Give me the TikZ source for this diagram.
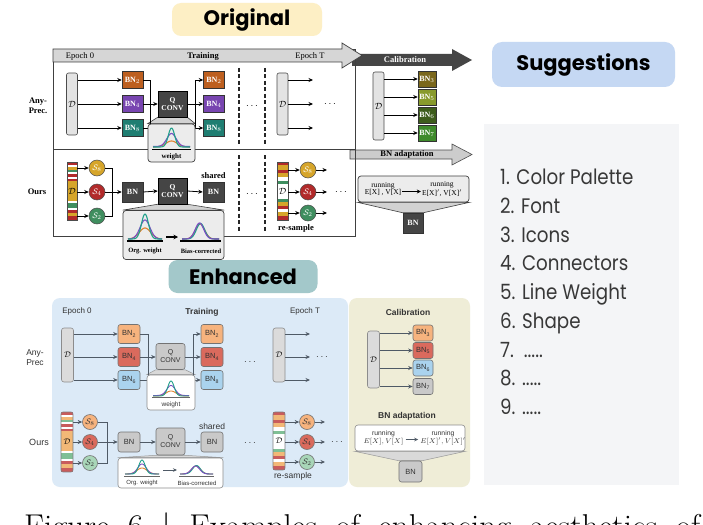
\documentclass[tikz,border=0pt]{standalone}
\usepackage{fontspec}
\setmainfont{Liberation Serif}
\newfontfamily\popf{Poppins}
\newfontfamily\popn[FakeStretch=0.87]{Poppins}
\newfontfamily\esf{Liberation Sans}
\newfontfamily\lmr{Latin Modern Roman}
\usetikzlibrary{arrows.meta}
\pgfdeclarelayer{bg}
\pgfdeclarelayer{mid}
\pgfsetlayers{bg,mid,main}
\definecolor{origbg}{HTML}{FDEFC5}
\definecolor{enhbg}{HTML}{A3C8CA}
\definecolor{sugbg}{HTML}{C5D8F3}
\definecolor{panelbg}{HTML}{F4F5F7}
\definecolor{bluebg}{HTML}{DCEAF7}
\definecolor{creambg}{HTML}{EFEDD7}
\definecolor{obn2}{HTML}{BD5F1F}
\definecolor{obn4}{HTML}{7845B0}
\definecolor{obn8}{HTML}{1F7E72}
\definecolor{oc3}{HTML}{7A671C}
\definecolor{oc5}{HTML}{889A2C}
\definecolor{oc6}{HTML}{3D5C1C}
\definecolor{oc7}{HTML}{3E8A2B}
\definecolor{odark}{HTML}{454545}
\definecolor{ored}{HTML}{B22A2A}
\definecolor{ogold}{HTML}{D6A52A}
\definecolor{ogreen}{HTML}{3F8E5F}
\definecolor{eor}{HTML}{F6B37E}
\definecolor{ere}{HTML}{DA6A5D}
\definecolor{ebl}{HTML}{AAD3EE}
\definecolor{egr}{HTML}{C9C9C9}
\definecolor{egn}{HTML}{A8D6B8}
\definecolor{ered}{HTML}{C95C5C}
\definecolor{egold}{HTML}{F2B877}
\definecolor{egreen}{HTML}{7FBF95}
\definecolor{cteal}{HTML}{20A08A}
\definecolor{cpurp}{HTML}{7A4FC2}
\definecolor{corng}{HTML}{E0822E}
\definecolor{etext}{HTML}{333333}
\definecolor{earrow}{HTML}{4F5A66}
\definecolor{listtext}{HTML}{383838}
\newcommand{\gcurve}[7]{\draw[#1] plot[domain=#2:#3, samples=60, smooth] (\x,{#5-#6*exp(-((\x-#4)/#7)^2)});}
\tikzset{
  otxt/.style={font=\fontsize{8.5}{9}\selectfont, inner sep=0pt},
  obtxt/.style={font=\fontsize{8.5}{9.5}\selectfont\bfseries, inner sep=0pt, align=center},
  obn/.style={rectangle, draw=black!80, line width=0.5pt, minimum width=21pt, minimum height=17pt, inner sep=0pt, text=white, font=\fontsize{8}{9}\selectfont\bfseries},
  ocb/.style={obn, minimum width=18pt, minimum height=16pt},
  oDbox/.style={rectangle, rounded corners=2pt, draw=black!70, fill=gray!22, line width=0.6pt, minimum width=11pt, inner sep=0pt},
  oarr/.style={-{Stealth[length=4.5pt,width=4pt]}, line width=0.8pt, draw=black},
  oline/.style={line width=0.8pt, draw=black},
  ocirc/.style={circle, draw=black!70, line width=0.5pt, minimum size=16pt, inner sep=0pt, text=white, font=\fontsize{8}{9}\selectfont},
  odash/.style={line width=1.4pt, dash pattern=on 4pt off 2.5pt, draw=black!85},
  oq/.style={rectangle, fill=odark, draw=black, line width=0.5pt, minimum width=29pt, minimum height=26pt, inner sep=0pt, text=white, align=center, font=\fontsize{7.5}{8.5}\selectfont\bfseries},
  obox/.style={rectangle, rounded corners=3pt, fill=gray!15, draw=black!75, line width=0.7pt, inner sep=0pt},
  otrap/.style={fill=gray!35, draw=black!75, line width=0.6pt},
  etxt/.style={font=\esf\fontsize{8}{9}\selectfont, inner sep=0pt, text=etext, align=center},
  ebtxt/.style={font=\esf\bfseries\fontsize{8.5}{9.5}\selectfont, inner sep=0pt, text=etext},
  ebn/.style={rectangle, rounded corners=2.5pt, draw=black!55, line width=0.6pt, minimum width=22pt, minimum height=19pt, inner sep=0pt, font=\esf\fontsize{7.5}{8}\selectfont, text=etext},
  ecb/.style={ebn, minimum width=20pt, minimum height=16pt},
  eDbox/.style={rectangle, rounded corners=2.5pt, draw=black!45, fill=gray!28, line width=0.6pt, minimum width=12pt, inner sep=0pt},
  earr/.style={-{Stealth[length=4.5pt,width=4pt]}, line width=0.9pt, draw=earrow},
  eline/.style={line width=0.9pt, draw=earrow},
  ecirc/.style={circle, draw=black!55, line width=0.6pt, minimum size=15pt, inner sep=0pt, text=etext, font=\fontsize{8}{9}\selectfont},
  eq/.style={ebn, fill=egr, minimum width=29pt, minimum height=26pt, align=center, font=\esf\fontsize{7}{8}\selectfont},
  ebox/.style={rectangle, rounded corners=3pt, fill=white, draw=black!45, line width=0.6pt, inner sep=0pt},
  etrap/.style={fill=gray!30, draw=black!40, line width=0.5pt},
  title/.style={rectangle, rounded corners=9pt, inner sep=0pt, font=\popf\bfseries\fontsize{21}{24}\selectfont, text=black},
  litem/.style={anchor=base west, inner sep=0pt, font=\popn\fontsize{21}{24}\selectfont, text=listtext}
}
\begin{document}
\begin{tikzpicture}[x=1pt,y=-1pt]
\useasboundingbox (0,0) rectangle (703,524);
\clip (0,0) rectangle (703,524);
\begin{pgfonlayer}{bg}
\fill[white] (0,0) rectangle (703,524);
\end{pgfonlayer}

% ================= ORIGINAL =================
\node[title, fill=origbg, minimum width=150pt, minimum height=33pt] (torig) at (247,19.5) {Original};

% calibration arrow
\fill[odark] (352,54) -- (452,54) -- (452,49) -- (472,60) -- (452,71) -- (452,66) -- (352,66) -- cycle;
\node[font=\fontsize{8.5}{9}\selectfont\bfseries, text=white, inner sep=0pt] (ocal) at (405,60) {Calibration};
% BN adaptation arrow
\filldraw[fill=gray!40, draw=black!70, line width=0.6pt] (350,150) -- (452,150) -- (452,144) -- (472,154.5) -- (452,165) -- (452,159) -- (350,159) -- cycle;
\node[obtxt] (obnad) at (407,154.5) {BN adaptation};
% training frame
\draw[black!75, line width=0.8pt] (53,49) rectangle (355,236);
\draw[black!75, line width=0.8pt] (53,149) -- (355,149);
\filldraw[fill=gray!32, draw=black!75, line width=0.7pt] (53,49) -- (342,49) -- (342,43) -- (362,55.5) -- (342,68) -- (342,62) -- (53,62) -- cycle;
\node[otxt] (oep0) at (80,56) {Epoch 0};
\node[obtxt] (otrain) at (203,56) {Training};
\node[otxt] (oepT) at (310,56) {Epoch T};

% Any-Prec row
\node[obtxt] (oap) at (38,106) {Any-\\Prec.};
\node[oDbox, minimum height=62pt] (oD1) at (72,104) {\fontsize{9}{9}\selectfont$\mathcal{D}$};
\node[obn, fill=obn2] (o12) at (132.5,80) {BN$_2$};
\node[obn, fill=obn4] (o14) at (132.5,104) {BN$_4$};
\node[obn, fill=obn8] (o18) at (132.5,128) {BN$_8$};
\draw[oarr] (oD1.east |- o12.west) -- (o12.west);
\draw[oarr] (oD1.east |- o14.west) -- (o14.west);
\draw[oarr] (oD1.east |- o18.west) -- (o18.west);
\node[oq] (oq1) at (172.5,104) {Q\\CONV};
\coordinate (oj1) at (150,104);
\coordinate (oj2) at (195,104);
\draw[oline] (o12.east) -| (oj1);
\draw[oline] (o18.east) -| (oj1);
\draw[oarr] (o14.east) -- (oq1.west);
\node[obn, fill=obn2] (o22) at (214,80) {BN$_2$};
\node[obn, fill=obn4] (o24) at (214,104) {BN$_4$};
\node[obn, fill=obn8] (o28) at (214,128) {BN$_8$};
\draw[oline] (oq1.east) -- (oj2);
\draw[oarr] (oj2) |- (o22.west);
\draw[oarr] (oj2) -- (o24.west);
\draw[oarr] (oj2) |- (o28.west);
\node[obox, minimum width=47pt, minimum height=38pt] (ow1) at (171.5,143) {};
\begin{pgfonlayer}{mid}
\draw[otrap] (oq1.south west) -- (oq1.south east) -- (ow1.north east) -- (ow1.north west) -- cycle;
\end{pgfonlayer}
\gcurve{corng, line width=1.1pt}{153}{190}{171.5}{147}{6}{8}
\gcurve{cpurp, line width=1.1pt}{153}{190}{171.5}{146.5}{13}{6.5}
\gcurve{cteal, line width=1.1pt}{153}{190}{171.5}{147}{19}{4.5}
\draw[black, line width=1pt] (152,149) -- (191,149);
\node[font=\fontsize{7}{8}\selectfont\bfseries, inner sep=0pt] (owt) at (171.5,156.5) {weight};

\draw[odash] (239,68) -- (239,145);
\draw[odash] (265,68) -- (265,145);
\node[font=\fontsize{10}{10}\selectfont\bfseries, inner sep=0pt] (odt1) at (252,106) {$\cdots$};
\node[oDbox, minimum height=62pt] (oDT1) at (282.5,104) {\fontsize{9}{9}\selectfont$\mathcal{D}$};
\coordinate (ot1) at (313,80);
\coordinate (ot2) at (313,104);
\coordinate (ot3) at (313,128);
\draw[oarr] (oDT1.east |- ot1) -- (ot1);
\draw[oarr] (oDT1.east |- ot2) -- (ot2);
\draw[oarr] (oDT1.east |- ot3) -- (ot3);
\node[font=\fontsize{10}{10}\selectfont, inner sep=0pt] (odt2) at (330,104) {$\cdots$};

% calibration
\node[oDbox, minimum height=68pt] (oDC) at (378.5,106) {\fontsize{9}{9}\selectfont$\mathcal{D}$};
\node[ocb, fill=oc3] (oc3n) at (427,79) {BN$_3$};
\node[ocb, fill=oc5] (oc5n) at (427,97) {BN$_5$};
\node[ocb, fill=oc6] (oc6n) at (427,115) {BN$_6$};
\node[ocb, fill=oc7] (oc7n) at (427,133) {BN$_7$};
\draw[oarr] (oDC.east |- oc3n.west) -- (oc3n.west);
\draw[oarr] (oDC.east |- oc5n.west) -- (oc5n.west);
\draw[oarr] (oDC.east |- oc6n.west) -- (oc6n.west);
\draw[oarr] (oDC.east |- oc7n.west) -- (oc7n.west);

% Ours row
\node[obtxt] (oours) at (37,192) {Ours};
\foreach \a/\b/\c in {162/165/ored,165/167/white,167/170/ogold,170/172/ogreen,172/174/white,174/177/ored,177/179/white,179/181/ored,181/201/ogold,201/203/white,203/208/ogreen,208/210/white,210/213/ored,213/216/ogold,216/220/ored}
  \fill[\c] (67,\a) rectangle (77,\b);
\node[rectangle, draw=black!70, line width=0.6pt, minimum width=10pt, minimum height=58pt, inner sep=0pt] (oDs) at (72,191) {\fontsize{9}{9}\selectfont$\mathcal{D}$};
\node[ocirc, fill=ogold] (os8) at (97,168) {$\mathcal{S}_8$};
\node[ocirc, fill=ored] (os4) at (97,192) {$\mathcal{S}_4$};
\node[ocirc, fill=ogreen] (os2) at (97,216) {$\mathcal{S}_2$};
\draw[oarr] (oDs.east |- os8) -- (os8);
\draw[oarr] (oDs.east |- os4) -- (os4);
\draw[oarr] (oDs.east |- os2) -- (os2);
\coordinate (oj3) at (112,192);
\draw[oline] (os8.east) -| (oj3);
\draw[oline] (os2.east) -| (oj3);
\node[obn, fill=odark, minimum height=20pt] (obn1) at (132.5,192) {BN};
\draw[oarr] (os4.east) -- (obn1.west);
\node[oq] (oq2) at (172.5,191) {Q\\CONV};
\draw[oarr] (obn1.east) -- (oq2.west);
\node[obn, fill=odark, minimum height=20pt] (osh) at (213.5,192) {BN};
\draw[oarr] (oq2.east) -- (osh.west);
\node[obtxt] (oshared) at (213.5,176) {shared};
\node[obox, minimum width=101pt, minimum height=49pt] (ow2) at (173.5,235) {};
\begin{pgfonlayer}{mid}
\draw[otrap] (oq2.south west) -- (oq2.south east) -- (ow2.north east) -- (ow2.north west) -- cycle;
\end{pgfonlayer}
\gcurve{corng, line width=1.1pt}{128}{162}{145}{239}{11}{8}
\gcurve{cpurp, line width=1.1pt}{128}{162}{145}{239}{19}{7}
\gcurve{cteal, line width=1.1pt}{128}{162}{145}{239}{25}{5}
\draw[black, line width=1.1pt] (127,241) -- (163,241);
\draw[-{Stealth[length=4.5pt,width=4.5pt]}, line width=1.5pt] (166,237) -- (178,237);
\gcurve{corng, line width=1.1pt}{182}{219}{200}{239}{15}{6.5}
\gcurve{cteal, line width=1.1pt}{182}{219}{200.5}{239}{15.5}{5.8}
\gcurve{cpurp, line width=1.1pt}{182}{219}{199.5}{239}{16}{6}
\draw[black, line width=1.1pt] (180,241) -- (221,241);
\node[font=\fontsize{6.5}{7}\selectfont\bfseries, inner sep=0pt] (oorg) at (145,251) {Org. weight};
\node[font=\fontsize{6.5}{7}\selectfont\bfseries, inner sep=0pt] (obias) at (201,251) {Bias-corrected};

\draw[odash] (239,155) -- (239,231);
\draw[odash] (265,155) -- (265,231);
\node[font=\fontsize{10}{10}\selectfont, inner sep=0pt] (odt3) at (252,194) {$\cdots$};
\foreach \a/\b/\c in {162/165/ored,165/170/ogold,170/173/ored,173/177/ogold,177/181/white,181/184/ogreen,184/199/white,199/202/ogreen,202/206/ogold,206/209/ored,209/212/white,212/216/ogold,216/220/ored}
  \fill[\c] (277,\a) rectangle (288,\b);
\node[rectangle, draw=black!70, line width=0.6pt, minimum width=11pt, minimum height=58pt, inner sep=0pt] (oDr) at (282.5,191) {\fontsize{9}{9}\selectfont$\mathcal{D}$};
\node[ocirc, fill=ogold] (or8) at (308,170) {$\mathcal{S}_8$};
\node[ocirc, fill=ored] (or4) at (308,192) {$\mathcal{S}_4$};
\node[ocirc, fill=ogreen] (or2) at (308,213) {$\mathcal{S}_2$};
\draw[oarr] (oDr.east |- or8) -- (or8);
\draw[oarr] (oDr.east |- or4) -- (or4);
\draw[oarr] (oDr.east |- or2) -- (or2);
\coordinate (ort1) at (327,170);
\coordinate (ort2) at (327,192);
\coordinate (ort3) at (327,213);
\draw[oarr] (or8) -- (ort1);
\draw[oarr] (or4) -- (ort2);
\draw[oarr] (or2) -- (ort3);
\node[font=\fontsize{10}{10}\selectfont, inner sep=0pt] (odt4) at (341,192) {$\cdots$};
\node[obtxt] (oresam) at (296,228) {re-sample};

% BN adaptation (original)
\node[obox, minimum width=111pt, minimum height=26pt] (oba) at (413.5,189) {};
\node[font=\fontsize{7.5}{7}\selectfont, inner sep=1pt, align=center] (orun1) at (383,189) {running\\E[X] , V[X]};
\node[font=\fontsize{7.5}{7}\selectfont, inner sep=1pt, align=center] (orun2) at (442,189) {running\\E[X]$'$, V[X]$'$};
\draw[-{Stealth[length=4pt,width=4pt]}, line width=1.3pt] ([yshift=-2.5pt]orun1.east) -- ([yshift=-2.5pt]orun2.west);
\node[obn, fill=odark, minimum width=20pt, minimum height=20pt] (obn3) at (413,223) {BN};
\begin{pgfonlayer}{mid}
\draw[otrap] (oba.south west) -- (oba.south east) -- (obn3.north east) -- (obn3.north west) -- cycle;
\end{pgfonlayer}

% ================= ENHANCED =================
\node[title, fill=enhbg, minimum width=149pt, minimum height=33pt] (tenh) at (243,276.5) {Enhanced};
\begin{pgfonlayer}{bg}
\fill[bluebg, rounded corners=8pt] (52,298) rectangle (348,487);
\fill[creambg, rounded corners=8pt] (349,298) rectangle (470,487);
\end{pgfonlayer}
\node[etxt] (eep0) at (77,311) {Epoch 0};
\node[ebtxt] (etrain) at (202,312) {Training};
\node[etxt] (eepT) at (305,311) {Epoch T};
\node[ebtxt] (ecal) at (408,312) {Calibration};

\node[etxt, font=\esf\fontsize{8.5}{10}\selectfont] (eap) at (35,358) {Any-\\Prec};
\node[eDbox, minimum height=54pt] (eD1) at (67.5,355) {\fontsize{8.5}{9}\selectfont$\mathcal{D}$};
\node[ebn, fill=eor] (e12) at (129,334) {BN\textsubscript{2}};
\node[ebn, fill=ere] (e14) at (129,357) {BN\textsubscript{4}};
\node[ebn, fill=ebl] (e16) at (129,380) {BN\textsubscript{6}};
\draw[earr] (eD1.east |- e12.west) -- (e12.west);
\draw[earr] (eD1.east |- e14.west) -- (e14.west);
\draw[earr] (eD1.east |- e16.west) -- (e16.west);
\node[eq] (eq1) at (170.5,356.5) {Q\\CONV};
\coordinate (ej1) at (148,357);
\coordinate (ej2) at (193,357);
\draw[eline] (e12.east) -| (ej1);
\draw[eline] (e16.east) -| (ej1);
\draw[earr] (e14.east) -- (eq1.west |- e14.east);
\node[ebn, fill=eor] (e22) at (212,334) {BN\textsubscript{2}};
\node[ebn, fill=ere] (e24) at (212,357) {BN\textsubscript{4}};
\node[ebn, fill=ebl] (e28) at (212,380) {BN\textsubscript{8}};
\draw[eline] (eq1.east |- ej2) -- (ej2);
\draw[earr] (ej2) |- (e22.west);
\draw[earr] (ej2) -- (e24.west);
\draw[earr] (ej2) |- (e28.west);
\node[ebox, minimum width=48pt, minimum height=35pt] (ew1) at (171,392.5) {};
\begin{pgfonlayer}{mid}
\draw[etrap] (eq1.south west) -- (eq1.south east) -- (ew1.north east) -- (ew1.north west) -- cycle;
\end{pgfonlayer}
\gcurve{corng, line width=0.9pt}{153}{189}{171}{396}{5}{7}
\gcurve{cpurp, line width=0.9pt}{153}{189}{171}{395.5}{10}{6}
\gcurve{cteal, line width=0.9pt}{153}{189}{171}{396}{15}{4.5}
\draw[black!60, line width=0.8pt] (152,397.5) -- (190,397.5);
\node[etxt, font=\esf\fontsize{6.5}{7}\selectfont] (ewt) at (171,404.5) {weight};
\node[font=\fontsize{10}{10}\selectfont, inner sep=0pt, text=etext] (edt1) at (250,362) {$\cdots$};
\node[eDbox, minimum height=54pt] (eDT1) at (279,355) {\fontsize{8.5}{9}\selectfont$\mathcal{D}$};
\coordinate (et1) at (310,334);
\coordinate (et2) at (310,357);
\coordinate (et3) at (310,380);
\draw[earr] (eDT1.east |- et1) -- (et1);
\draw[earr] (eDT1.east |- et2) -- (et2);
\draw[earr] (eDT1.east |- et3) -- (et3);
\node[font=\fontsize{10}{10}\selectfont, inner sep=0pt, text=etext] (edt2) at (322,357) {$\cdots$};

\node[eDbox, minimum height=57pt] (eDC) at (373.5,359.5) {\fontsize{8.5}{9}\selectfont$\mathcal{D}$};
\node[ecb, fill=eor] (ec3) at (423,333) {BN\textsubscript{3}};
\node[ecb, fill=ere] (ec5) at (423,350.5) {BN\textsubscript{5}};
\node[ecb, fill=ebl] (ec6) at (423,368) {BN\textsubscript{6}};
\node[ecb, fill=egr] (ec7) at (423,386.5) {BN\textsubscript{7}};
\draw[earr] (eDC.east |- ec3.west) -- (ec3.west);
\draw[earr] (eDC.east |- ec5.west) -- (ec5.west);
\draw[earr] (eDC.east |- ec6.west) -- (ec6.west);
\draw[earr] (eDC.east |- ec7.west) -- (ec7.west);

% Ours enhanced
\node[etxt, font=\esf\fontsize{9}{10}\selectfont] (eours) at (39,442) {Ours};
\foreach \a/\b/\c in {412/415/ered,415/417/white,417/420/egold,420/422/egreen,422/424/white,424/427/ered,427/429/white,429/431/ered,431/451/egold,451/453/white,453/459/egreen,459/461/white,461/464/ered,464/468/egold,468/472/ered}
  \fill[\c] (61,\a) rectangle (73,\b);
\node[rectangle, rounded corners=2pt, draw=black!50, line width=0.6pt, minimum width=12pt, minimum height=60pt, inner sep=0pt] (eDs) at (67,442) {\fontsize{8.5}{9}\selectfont$\mathcal{D}$};
\node[ecirc, fill=eor] (es8) at (90,422) {$\mathcal{S}_8$};
\node[ecirc, fill=ere] (es4) at (90,442) {$\mathcal{S}_4$};
\node[ecirc, fill=egn] (es2) at (90,463) {$\mathcal{S}_2$};
\draw[earr] (eDs.east |- es8) -- (es8);
\draw[earr] (eDs.east |- es4) -- (es4);
\draw[earr] (eDs.east |- es2) -- (es2);
\coordinate (ej3) at (107,442);
\draw[eline] (es8.east) -| (ej3);
\draw[eline] (es2.east) -| (ej3);
\node[ebn, fill=egr, minimum height=20pt] (ebn1) at (129,442) {BN};
\draw[earr] (es4.east) -- (ebn1.west);
\node[eq, minimum height=27pt] (eq2) at (170.5,441.5) {Q\\CONV};
\draw[earr] (ebn1.east) -- (eq2.west |- ebn1.east);
\node[ebn, fill=egr, minimum height=20pt] (esh) at (212,442) {BN};
\draw[earr] (eq2.east |- esh.west) -- (esh.west);
\node[etxt, font=\esf\fontsize{8.5}{9}\selectfont] (eshared) at (212,426) {shared};
\node[ebox, minimum width=105pt, minimum height=30pt] (ew2) at (170.5,473) {};
\begin{pgfonlayer}{mid}
\draw[etrap] (eq2.south west) -- (eq2.south east) -- (ew2.north east) -- (ew2.north west) -- cycle;
\end{pgfonlayer}
\gcurve{corng, line width=0.9pt}{125}{159}{142}{474}{6}{7}
\gcurve{cpurp, line width=0.9pt}{125}{159}{142}{474}{10}{6}
\gcurve{cteal, line width=0.9pt}{125}{159}{142}{474}{14}{4.5}
\draw[black!60, line width=0.8pt] (124,476) -- (160,476);
\draw[-{Stealth[length=4pt,width=3.5pt]}, line width=0.9pt, earrow] (163,470) -- (177,470);
\gcurve{corng, line width=0.9pt}{180}{213}{196}{474}{8}{6}
\gcurve{cteal, line width=0.9pt}{180}{213}{196.5}{474}{8.5}{5.5}
\gcurve{cpurp, line width=0.9pt}{180}{213}{195.5}{474}{8}{5.8}
\draw[black!60, line width=0.8pt] (179,476) -- (214,476);
\node[etxt, font=\esf\fontsize{6}{7}\selectfont] (eorg) at (142,483) {Org. weight};
\node[etxt, font=\esf\fontsize{6}{7}\selectfont] (ebias) at (197,483) {Bias-corrected};

\node[font=\fontsize{10}{10}\selectfont, inner sep=0pt, text=etext] (edt3) at (250,443) {$\cdots$};
\foreach \a/\b/\c in {412/415/ered,415/420/egold,420/423/ered,423/427/egold,427/431/white,431/434/egreen,434/449/white,449/452/egreen,452/456/egold,456/459/ered,459/462/white,462/466/egold,466/470/ered}
  \fill[\c] (273,\a) rectangle (285,\b);
\node[rectangle, rounded corners=2pt, draw=black!50, line width=0.6pt, minimum width=12pt, minimum height=58pt, inner sep=0pt] (eDr) at (279,441) {\fontsize{8.5}{9}\selectfont$\mathcal{D}$};
\node[ecirc, fill=eor] (er8) at (307,422) {$\mathcal{S}_8$};
\node[ecirc, fill=ere] (er4) at (307,442) {$\mathcal{S}_4$};
\node[ecirc, fill=egn] (er2) at (307,462) {$\mathcal{S}_2$};
\draw[earr] (eDr.east |- er8) -- (er8);
\draw[earr] (eDr.east |- er4) -- (er4);
\draw[earr] (eDr.east |- er2) -- (er2);
\coordinate (ert1) at (325,422);
\coordinate (ert2) at (325,442);
\coordinate (ert3) at (325,462);
\draw[earr] (er8) -- (ert1);
\draw[earr] (er4) -- (ert2);
\draw[earr] (er2) -- (ert3);
\node[font=\fontsize{10}{10}\selectfont, inner sep=0pt, text=etext] (edt4) at (337,442) {$\cdots$};
\node[etxt, font=\esf\fontsize{8.5}{9}\selectfont] (eresam) at (293,476) {re-sample};

\node[ebtxt] (ebnad) at (407,416) {BN adaptation};
\node[ebox, minimum width=110pt, minimum height=26pt] (eba) at (410,438) {};
\node[font=\fontsize{6.8}{7.5}\selectfont, inner sep=0pt, align=center, text=etext] (erun1) at (383.5,438) {{\esf running}\\$E[X], V[X]$};
\node[font=\fontsize{6.8}{7.5}\selectfont, inner sep=0pt, align=center, text=etext] (erun2) at (443,438) {{\esf running}\\$E[X]', V[X]'$};
\draw[-{Stealth[length=4pt,width=3.5pt]}, line width=0.9pt, earrow] ([yshift=-1.5pt,xshift=2pt]erun1.east) -- ([yshift=-1.5pt,xshift=-2pt]erun2.west);
\node[ebn, fill=egr, minimum width=23pt, minimum height=21pt] (ebn3) at (410.5,471.5) {BN};
\begin{pgfonlayer}{mid}
\draw[etrap] (eba.south west) -- (eba.south east) -- (ebn3.north east) -- (ebn3.north west) -- cycle;
\end{pgfonlayer}

% ================= SUGGESTIONS =================
\node[title, fill=sugbg, rounded corners=10pt, minimum width=183pt, minimum height=45pt] (tsug) at (583.5,64.5) {Suggestions};
\begin{pgfonlayer}{bg}
\fill[panelbg] (484,124) rectangle (679,485);
\end{pgfonlayer}
\node[litem] (l1) at (500,184.5) {1. Color Palette};
\node[litem] (l2) at (500,213.25) {2. Font};
\node[litem] (l3) at (500,242) {3. Icons};
\node[litem] (l4) at (500,270.75) {4. Connectors};
\node[litem] (l5) at (500,299.5) {5. Line Weight};
\node[litem] (l6) at (500,328.25) {6. Shape};
\node[litem] (l7) at (500,357) {7.\ \ .....};
\node[litem] (l8) at (500,385.75) {8. .....};
\node[litem] (l9) at (500,414.5) {9. .....};

% caption (cut off by the lower edge)
\node[anchor=base west, inner sep=0pt, font=\lmr\fontsize{33}{36}\selectfont] (capt) at (24,537) {\makebox[676pt][s]{Figure 6 | Examples of enhancing aesthetics of}};
\end{tikzpicture}
\end{document}
